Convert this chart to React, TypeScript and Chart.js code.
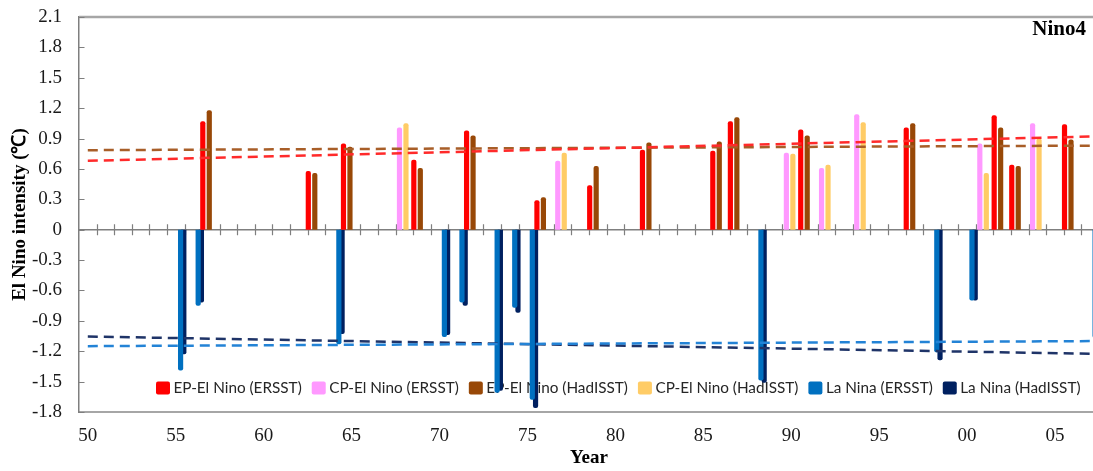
import { useEffect, useRef } from "react";
import { Chart, registerables } from "chart.js";

Chart.register(...registerables);

// ---------- data ----------
const years = [
  1950, 1951, 1952, 1953, 1954, 1955, 1956, 1957, 1958, 1959,
  1960, 1961, 1962, 1963, 1964, 1965, 1966, 1967, 1968, 1969,
  1970, 1971, 1972, 1973, 1974, 1975, 1976, 1977, 1978, 1979,
  1980, 1981, 1982, 1983, 1984, 1985, 1986, 1987, 1988, 1989,
  1990, 1991, 1992, 1993, 1994, 1995, 1996, 1997, 1998, 1999,
  2000, 2001, 2002, 2003, 2004, 2005, 2006, 2007,
];

const epYears = [1957, 1963, 1965, 1969, 1972, 1976, 1979, 1982, 1986, 1987, 1991, 1997, 2002, 2003, 2006];
const epErsst = [1.07, 0.58, 0.85, 0.69, 0.98, 0.29, 0.44, 0.79, 0.78, 1.07, 0.99, 1.01, 1.13, 0.64, 1.04];
const epHadisst = [1.18, 0.56, 0.82, 0.61, 0.93, 0.32, 0.63, 0.86, 0.87, 1.11, 0.93, 1.05, 1.01, 0.63, 0.89];

const cpYears = [1968, 1977, 1990, 1992, 1994, 2001, 2004];
const cpErsst = [1.01, 0.68, 0.76, 0.61, 1.14, 0.85, 1.05];
const cpHadisst = [1.05, 0.76, 0.75, 0.64, 1.06, 0.56, 0.9];

const laNinaYears = [1955, 1956, 1964, 1970, 1971, 1973, 1974, 1975, 1988, 1998, 2000, 2007];
const laNinaErsst = [-1.39, -0.75, -1.13, -1.06, -0.72, -1.61, -0.77, -1.68, -1.49, -1.21, -0.7, -1.07];
const laNinaHadisst = [-1.23, -0.72, -1.03, -1.04, -0.75, -1.59, -0.82, -1.76, -1.51, -1.29, -0.7, -1.1];

// linear trend lines: values at the first and last year
const trendYears = [1950, 2007];
const trendElNinoErsst = [0.68, 0.92];
const trendElNinoHadisst = [0.785, 0.83];
const trendLaNinaErsst = [-1.15, -1.1];
const trendLaNinaHadisst = [-1.055, -1.225];

const yMin = -1.8;
const yMax = 2.1;
const yStep = 0.3;

// ---------- helpers ----------
const spread = (ys: number[], vals: number[]) =>
  years.map((yr) => {
    const i = ys.indexOf(yr);
    return i >= 0 ? vals[i] : null;
  });

const SERIF = '"Liberation Serif", "Times New Roman", serif';
const SANS = 'Lato, "Liberation Sans", sans-serif';

const barStyle = {
  type: "bar" as const,
  borderRadius: 2,
  borderSkipped: "start" as const,
  categoryPercentage: 1.106,
  barPercentage: 1.6,
  order: 1,
};

const lineStyle = {
  type: "line" as const,
  borderDash: [10, 6],
  borderWidth: 2.5,
  pointRadius: 0,
  spanGaps: true,
  fill: false,
  order: 0,
};

const decorPlugin = {
  id: "decor",
  beforeDatasetsDraw(chart: any) {
    const { ctx, chartArea: a, scales } = chart;
    const x = scales.x;
    const y = scales.y;
    ctx.save();

    // top border of plot area
    ctx.strokeStyle = "#A6A6A6";
    ctx.lineWidth = 2.5;
    ctx.beginPath();
    ctx.moveTo(a.left, a.top);
    ctx.lineTo(a.right, a.top);
    ctx.stroke();

    // zero axis line with crossing ticks at category boundaries
    const y0 = y.getPixelForValue(0);
    ctx.strokeStyle = "#7F7F7F";
    ctx.lineWidth = 1.5;
    ctx.beginPath();
    ctx.moveTo(a.left, y0);
    ctx.lineTo(a.right, y0);
    ctx.stroke();
    const n = chart.data.labels.length;
    const step = x.getPixelForValue(1) - x.getPixelForValue(0);
    ctx.lineWidth = 1.2;
    ctx.beginPath();
    for (let i = 0; i < n; i++) {
      const px = Math.round(x.getPixelForValue(i) + step / 2) + 0.5;
      ctx.moveTo(px, y0 - 5.5);
      ctx.lineTo(px, y0 + 5.5);
    }
    ctx.stroke();

    // inward y tick marks
    ctx.beginPath();
    y.ticks.forEach((t: any) => {
      const py = Math.round(y.getPixelForValue(t.value)) + 0.5;
      ctx.moveTo(a.left, py);
      ctx.lineTo(a.left + 5.5, py);
    });
    ctx.stroke();

    // legend inside plot area
    ctx.font = `15.3px ${SANS}`;
    ctx.textBaseline = "middle";
    ctx.textAlign = "left";
    let lx = a.left + 77;
    const ly = a.bottom - 24;
    chart.data.datasets.forEach((ds: any) => {
      if (ds.type !== "bar") return;
      ctx.fillStyle = ds.backgroundColor;
      ctx.beginPath();
      ctx.roundRect(lx, ly - 6.5, 14, 13, 2);
      ctx.fill();
      lx += 17.5;
      ctx.fillStyle = "#262626";
      ctx.fillText(ds.label, lx, ly + 0.5);
      lx += ctx.measureText(ds.label).width + 10;
    });

    // panel label
    ctx.font = `bold 21px ${SERIF}`;
    ctx.fillStyle = "#000";
    ctx.textAlign = "right";
    ctx.fillText("Nino4", a.right - 13, a.top + 13);

    ctx.restore();
  },
};

export default function App() {
  const ref = useRef<HTMLCanvasElement>(null);

  useEffect(() => {
    const trendData = (vals: number[]) => spread(trendYears, vals);
    const chart = new Chart(ref.current!, {
      type: "bar",
      data: {
        labels: years,
        datasets: [
          { ...lineStyle, label: "Trend EP (ERSST)", data: trendData(trendElNinoErsst), borderColor: "#FF2A2A" },
          { ...lineStyle, label: "Trend EP (HadISST)", data: trendData(trendElNinoHadisst), borderColor: "#A85E28" },
          { ...lineStyle, label: "Trend La Nina (ERSST)", data: trendData(trendLaNinaErsst), borderColor: "#2383D6" },
          { ...lineStyle, label: "Trend La Nina (HadISST)", data: trendData(trendLaNinaHadisst), borderColor: "#1F3468" },
          { ...barStyle, label: "EP-El Nino (ERSST)", data: spread(epYears, epErsst), backgroundColor: "#FF0000" },
          { ...barStyle, label: "CP-El Nino (ERSST)", data: spread(cpYears, cpErsst), backgroundColor: "#FF99FF" },
          { ...barStyle, label: "EP-El Nino (HadISST)", data: spread(epYears, epHadisst), backgroundColor: "#984807" },
          { ...barStyle, label: "CP-El Nino (HadISST)", data: spread(cpYears, cpHadisst), backgroundColor: "#FFCC66" },
          { ...barStyle, label: "La Nina (ERSST)", data: spread(laNinaYears, laNinaErsst), backgroundColor: "#0070C0" },
          { ...barStyle, label: "La Nina (HadISST)", data: spread(laNinaYears, laNinaHadisst), backgroundColor: "#002060" },
        ] as any,
      },
      options: {
        responsive: false,
        animation: false,
        devicePixelRatio: 1,
        events: [],
        layout: { padding: { top: 17, left: 0, right: 0, bottom: 0 } },
        plugins: {
          legend: { display: false },
          tooltip: { enabled: false },
          title: { display: false },
        },
        scales: {
          x: {
            type: "category",
            grid: { display: false, drawTicks: false },
            border: { display: true, color: "#A6A6A6", width: 2 },
            ticks: {
              autoSkip: false,
              maxRotation: 0,
              minRotation: 0,
              padding: 13,
              color: "#1A1A1A",
              font: { family: SERIF, size: 19 },
              callback: (_v: any, i: number) => {
                const yr = years[i];
                return yr % 5 === 0 ? String(yr).slice(2) : "";
              },
            },
            title: {
              display: true,
              text: "Year",
              color: "#000",
              font: { family: SERIF, size: 19, weight: "bold" },
              padding: { top: 0, bottom: 1.6 },
            },
            afterFit: (s: any) => {
              s.height = 59;
              s.paddingLeft = 0;
              s.paddingRight = 0;
            },
          },
          y: {
            min: yMin,
            max: yMax,
            grid: { display: false, drawTicks: false },
            border: { display: true, color: "#7F7F7F", width: 1.5 },
            ticks: {
              stepSize: yStep,
              padding: 17,
              color: "#1A1A1A",
              font: { family: SERIF, size: 19 },
              callback: (v: any) => {
                const r = Math.round(Number(v) * 10) / 10;
                return r === 0 ? "0" : r.toFixed(1);
              },
            },
            title: {
              display: true,
              text: "El Nino intensity (℃)",
              color: "#000",
              font: { family: SERIF, size: 19, weight: "bold" },
              padding: { top: 8.6, bottom: 0 },
            },
            afterFit: (s: any) => {
              s.width = 79;
              s.paddingTop = 0;
              s.paddingBottom = 0;
            },
          },
        },
      } as any,
      plugins: [decorPlugin],
    });
    return () => chart.destroy();
  }, []);

  return (
    <div
      style={{
        position: "fixed",
        left: 0,
        top: 0,
        width: 1093,
        height: 471,
        overflow: "hidden",
        background: "#fff",
      }}
    >
      <canvas ref={ref} width={1099} height={471} style={{ display: "block", width: 1099, height: 471 }} />
    </div>
  );
}
